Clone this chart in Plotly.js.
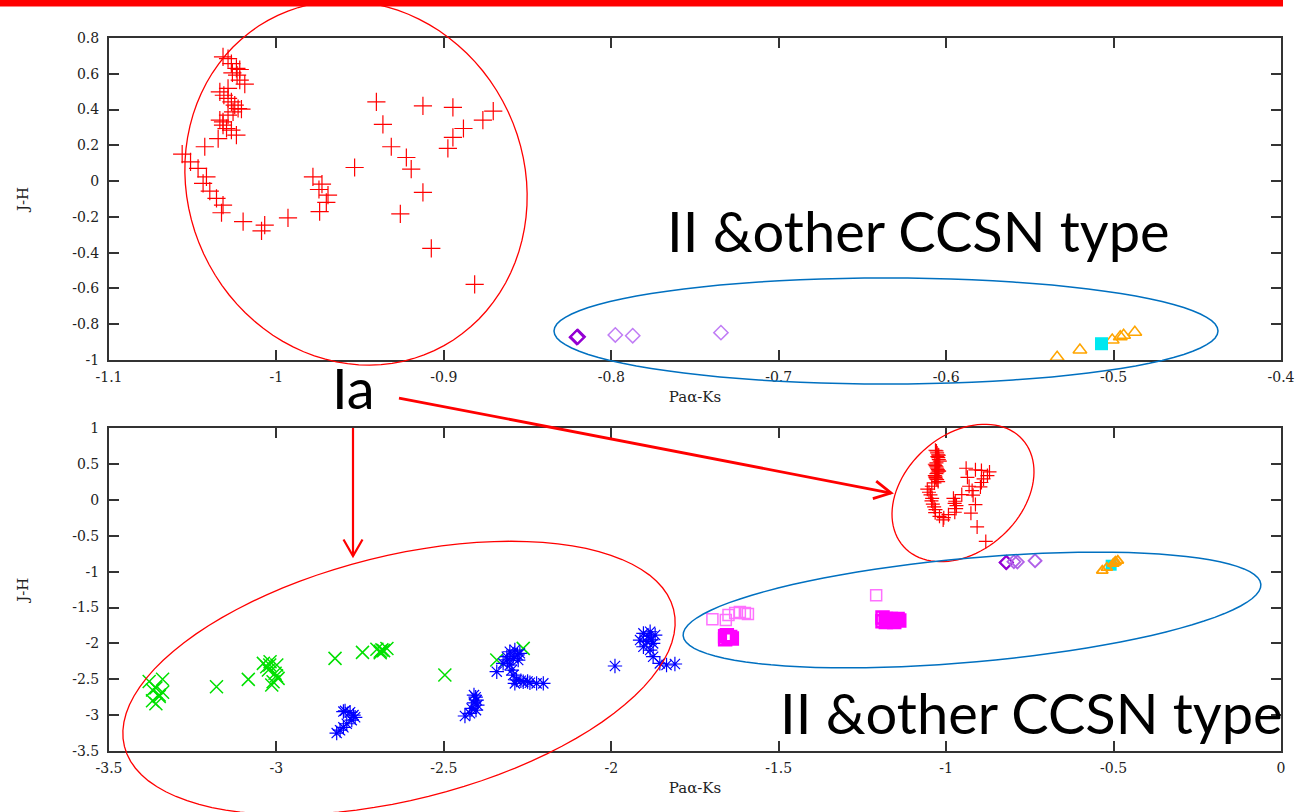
<!DOCTYPE html>
<html><head><meta charset="utf-8">
<script src="https://cdn.plot.ly/plotly-3.0.1.min.js"></script>
<style>html,body{margin:0;padding:0;background:#fff;} #chart{width:1301px;height:812px;}</style>
</head><body><div id="chart"></div>
<script>
// ---------- DATA ----------
// Type Ia (red +) : Paα-Ks vs J-H
const iaX = [-1.0319,-1.0289,-1.0269,-1.0239,-1.0219,-1.0263,-1.0235,-1.0219,-1.0189,-1.0338,-1.0289,-1.0314,-1.0289,-1.0269,-1.0249,-1.0229,-1.0209,-1.0259,-1.0289,-1.0338,-1.0319,-1.0319,-1.0298,-1.0269,-1.0239,-1.0348,-1.0428,-1.0563,-1.0513,-1.0468,-1.0418,-1.0438,-1.0398,-1.0358,-1.0319,-1.0328,-1.0199,-1.0070,-1.0089,-0.9931,-0.9782,-0.9728,-0.9746,-0.9692,-0.9702,-0.9742,-0.9533,-0.9403,-0.9364,-0.9314,-0.9224,-0.9195,-0.9125,-0.9260,-0.9075,-0.9125,-0.8946,-0.8946,-0.8976,-0.8883,-0.8767,-0.8705,-0.8816];
const iaY = [0.694,0.685,0.657,0.630,0.624,0.605,0.592,0.564,0.542,0.499,0.518,0.480,0.462,0.443,0.425,0.406,0.402,0.387,0.369,0.341,0.331,0.313,0.294,0.285,0.257,0.238,0.192,0.151,0.108,0.071,0.024,-0.013,-0.056,-0.097,-0.134,-0.177,-0.227,-0.246,-0.278,-0.205,0.024,-0.017,-0.047,-0.078,-0.119,-0.171,0.076,0.443,0.317,0.192,0.132,0.067,-0.063,-0.183,-0.376,0.421,0.412,0.244,0.183,0.294,0.341,0.391,-0.577];
// dark violet diamond
const dvX = [-0.8206,-0.8200];
const dvY = [-0.873,-0.870];
// light violet diamonds
const lvX = [-0.7976,-0.7872,-0.7345];
const lvY = [-0.860,-0.864,-0.847];
// orange triangles
const trX = [-0.5337,-0.5201,-0.5008,-0.4960,-0.4940,-0.4873];
const trY = [-0.985,-0.944,-0.888,-0.870,-0.862,-0.845];
// cyan square
const cyX = [-0.5072];
const cyY = [-0.909];
// green x
const grX = [-3.38,-3.34,-3.37,-3.34,-3.35,-3.37,-3.36,-3.35,-3.36,-3.179,-3.084,-3.039,-3.019,-2.999,-3.024,-3.004,-3.010,-3.014,-2.995,-3.029,-3.00,-3.02,-2.825,-2.743,-2.70,-2.68,-2.69,-2.67,-2.69,-2.685,-2.497,-2.342,-2.263];
const grY = [-2.53,-2.50,-2.65,-2.68,-2.74,-2.80,-2.62,-2.72,-2.84,-2.604,-2.501,-2.278,-2.255,-2.301,-2.371,-2.417,-2.534,-2.580,-2.487,-2.325,-2.45,-2.30,-2.208,-2.125,-2.08,-2.10,-2.13,-2.07,-2.11,-2.09,-2.441,-2.232,-2.069];
// blue asterisks
const blX = [-2.795,-2.78,-2.77,-2.765,-2.775,-2.79,-2.80,-2.81,-2.82,-2.80,-2.410,-2.402,-2.400,-2.404,-2.417,-2.422,-2.437,-2.405,-2.41,-2.342,-2.303,-2.288,-2.273,-2.312,-2.293,-2.278,-2.323,-2.303,-2.297,-2.293,-2.283,-2.263,-2.243,-2.223,-2.203,-2.288,-2.27,-2.25,-2.31,-2.28,-1.989,-1.904,-1.884,-1.869,-1.914,-1.894,-1.875,-1.904,-1.884,-1.875,-1.855,-1.835,-1.810,-1.89,-1.88];
const blY = [-2.94,-2.96,-3.00,-3.03,-3.07,-3.12,-3.17,-3.21,-3.25,-2.95,-2.72,-2.79,-2.86,-2.93,-2.906,-2.975,-3.012,-2.75,-2.83,-2.394,-2.116,-2.092,-2.138,-2.185,-2.208,-2.232,-2.278,-2.301,-2.371,-2.441,-2.510,-2.534,-2.548,-2.557,-2.557,-2.557,-2.52,-2.53,-2.23,-2.16,-2.315,-1.860,-1.837,-1.883,-1.953,-1.976,-2.0,-2.046,-2.092,-2.185,-2.278,-2.301,-2.287,-1.90,-1.95];
// light magenta open squares
const lmX = [-1.698,-1.658,-1.650,-1.630,-1.616,-1.601,-1.592,-1.209];
const lmY = [-1.664,-1.674,-1.604,-1.576,-1.562,-1.576,-1.590,-1.329];
// magenta squares (dense)
const mgX = [-1.66,-1.65,-1.66,-1.645,-1.655,-1.64,-1.19,-1.18,-1.17,-1.16,-1.15,-1.14,-1.19,-1.18,-1.165,-1.155,-1.145,-1.175];
const mgY = [-1.90,-1.92,-1.94,-1.91,-1.885,-1.93,-1.64,-1.66,-1.67,-1.68,-1.67,-1.68,-1.69,-1.70,-1.66,-1.70,-1.66,-1.68];

// tick labels
const topXTicks = [-1.1,-1,-0.9,-0.8,-0.7,-0.6,-0.5,-0.4];
const topXLabels = ["-1.1","-1","-0.9","-0.8","-0.7","-0.6","-0.5","-0.4"];
const topYTicks = [-1,-0.8,-0.6,-0.4,-0.2,0,0.2,0.4,0.6,0.8];
const topYLabels = ["-1","-0.8","-0.6","-0.4","-0.2","0","0.2","0.4","0.6","0.8"];
const botXTicks = [-3.5,-3,-2.5,-2,-1.5,-1,-0.5,0];
const botXLabels = ["-3.5","-3","-2.5","-2","-1.5","-1","-0.5","0"];
const botYTicks = [-3.5,-3,-2.5,-2,-1.5,-1,-0.5,0,0.5,1];
const botYLabels = ["-3.5","-3","-2.5","-2","-1.5","-1","-0.5","0","0.5","1"];

// ---------- OVERLAY GEOMETRY (pixel frame) ----------
const L=109, R=1281, T=38, B=751, W=R-L, H=B-T;
const px = x => (x-L)/W;
const py = y => (B-y)/H;
function ellipsePath(cx,cy,a,b,deg){
  const th=deg*Math.PI/180; let d='';
  for(let i=0;i<=96;i++){
    const t=i/96*2*Math.PI;
    const X=cx + a*Math.cos(t)*Math.cos(th) - b*Math.sin(t)*Math.sin(th);
    const Y=cy - (a*Math.cos(t)*Math.sin(th) + b*Math.sin(t)*Math.cos(th));
    d += (i?'L':'M') + px(X).toFixed(5)+','+py(Y).toFixed(5);
  }
  return d+'Z';
}
function arrowPaths(x0,y0,x1,y1,len,ang){
  const dx=x1-x0, dy=y1-y0, n=Math.hypot(dx,dy), bx=-dx/n, by=-dy/n, a=ang*Math.PI/180;
  const h1=[x1+len*(bx*Math.cos(a)-by*Math.sin(a)), y1+len*(bx*Math.sin(a)+by*Math.cos(a))];
  const h2=[x1+len*(bx*Math.cos(a)+by*Math.sin(a)), y1+len*(-bx*Math.sin(a)+by*Math.cos(a))];
  const P=(x,y)=>px(x).toFixed(5)+','+py(y).toFixed(5);
  return ['M'+P(x0,y0)+'L'+P(x1,y1), 'M'+P(h1[0],h1[1])+'L'+P(x1,y1)+'L'+P(h2[0],h2[1])];
}
const RED='#ff0000', BLUE='#0070c0';
const shapes=[];
shapes.push({type:'rect',xref:'paper',yref:'paper',x0:px(-5),x1:px(1283),y0:py(6.5),y1:py(-5),fillcolor:RED,line:{width:0}});
[[356,183,185,168,-65,RED,1.3],[886,331,332,53,0,BLUE,1.5],[963,493,80,58,42,RED,1.3],[399,678,283,122,14,RED,1.3],[972,610,290,52,5.1,BLUE,1.5]]
 .forEach(e=>shapes.push({type:'path',xref:'paper',yref:'paper',path:ellipsePath(e[0],e[1],e[2],e[3],e[4]),line:{color:e[5],width:e[6]}}));
arrowPaths(353,428,353,556,19,30).forEach(p=>shapes.push({type:'path',xref:'paper',yref:'paper',path:p,line:{color:RED,width:2.2}}));
arrowPaths(399,398,891,493,19,28).forEach(p=>shapes.push({type:'path',xref:'paper',yref:'paper',path:p,line:{color:RED,width:2.8}}));

const bigFont={family:'Lato, "Open Sans", sans-serif',size:56,color:'#000'};
const annotations=[
  {xref:'paper',yref:'paper',x:px(353),y:py(387),text:'Ia',showarrow:false,xanchor:'center',yanchor:'middle',font:bigFont},
  {xref:'paper',yref:'paper',x:px(665),y:py(230),text:'II &amp;other CCSN type',showarrow:false,xanchor:'left',yanchor:'middle',font:bigFont},
  {xref:'paper',yref:'paper',x:px(778),y:py(712),text:'II &amp;other CCSN type',showarrow:false,xanchor:'left',yanchor:'middle',font:bigFont}
];

// ---------- TRACES ----------
function sc(x,y,xa,ya,symbol,color,size,lw,fill){
  return {type:'scatter',mode:'markers',x:x,y:y,xaxis:xa,yaxis:ya,cliponaxis:false,
    marker:{symbol:symbol,size:size,color:fill||color,line:{color:color,width:lw}},hoverinfo:'x+y'};
}
const traces=[
  sc(iaX,iaY,'x','y','cross-thin-open',RED,13,1.2),
  sc(dvX,dvY,'x','y','diamond-open','#9400d3',11,2),
  sc(lvX,lvY,'x','y','diamond-open','#c07cf5',11,1.5),
  sc(trX,trY,'x','y','triangle-up-open','#ffa500',12,1.5),
  sc(cyX,cyY,'x','y','square','#00e8f0',13,0,'#00e8f0'),
  sc(grX,grY,'x2','y2','x-thin-open','#00e000',13,1.5),
  sc(blX,blY,'x2','y2','asterisk-open','#0000ff',12,1.2),
  sc(lmX,lmY,'x2','y2','square-open','#ff70ff',11,1.5),
  sc(mgX,mgY,'x2','y2','square-open','#ff00ff',12,2.5),
  sc(iaX,iaY,'x2','y2','cross-thin-open',RED,10,1.2),
  sc(dvX,dvY,'x2','y2','diamond-open','#9400d3',10,2),
  sc(lvX,lvY,'x2','y2','diamond-open','#b060e8',10,1.8),
  sc(cyX,cyY,'x2','y2','square','#00e8f0',11,0,'#00e8f0'),
  sc(trX,trY,'x2','y2','triangle-up-open','#ffa000',10,1.8)
];

const tickFont={family:'"DejaVu Serif", "Liberation Serif", serif',size:14,color:'#222'};
const titleFont={family:'"DejaVu Serif", "Liberation Serif", serif',size:15,color:'#222'};
function axis(extra){
  return Object.assign({showline:true,linecolor:'#333',linewidth:2,mirror:'ticks',ticks:'inside',ticklen:10,tickwidth:2,tickcolor:'#333',
    showgrid:false,zeroline:false,tickmode:'array',tickfont:tickFont,fixedrange:true},extra);
}
const layout={
  width:1301,height:812,paper_bgcolor:'#fff',plot_bgcolor:'#fff',showlegend:false,
  margin:{l:L,r:1301-R,t:T,b:812-B},
  xaxis:axis({domain:[0,1],anchor:'y',range:[-1.1,-0.4],tickvals:topXTicks,ticktext:topXLabels,ticklabelstandoff:3,title:{text:'Paα-Ks',font:titleFont,standoff:8}}),
  yaxis:axis({domain:[py(360),1],anchor:'x',range:[-1,0.8],tickvals:topYTicks,ticktext:topYLabels,ticklabelstandoff:5,title:{text:'J-H',font:titleFont,standoff:40}}),
  xaxis2:axis({domain:[0,1],anchor:'y2',range:[-3.5,0],tickvals:botXTicks,ticktext:botXLabels,ticklabelstandoff:3,title:{text:'Paα-Ks',font:titleFont,standoff:8}}),
  yaxis2:axis({domain:[0,py(428.3)],anchor:'x2',range:[-3.5,1],tickvals:botYTicks,ticktext:botYLabels,ticklabelstandoff:5,title:{text:'J-H',font:titleFont,standoff:40}}),
  shapes:shapes,annotations:annotations
};
Plotly.newPlot('chart',traces,layout,{displayModeBar:false,staticPlot:true});
</script></body></html>
